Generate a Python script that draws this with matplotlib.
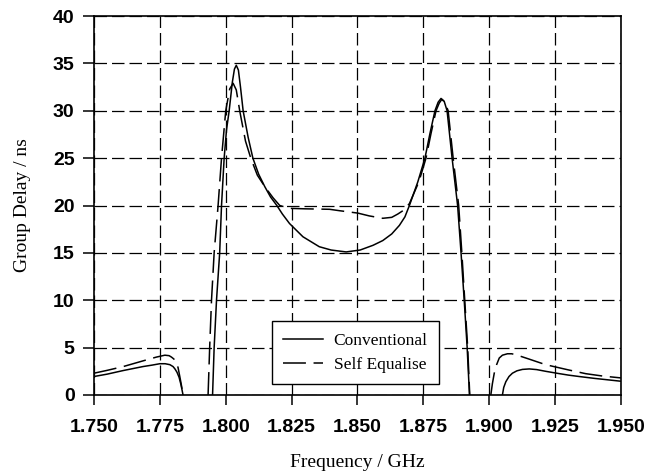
import numpy as np
import matplotlib
matplotlib.use("Agg")
import matplotlib.pyplot as plt

# Conventional (solid) - three branches separated by NaN
conv_freq = [1.7500, 1.7550, 1.7611, 1.7686, 1.7720, 1.7750, 1.7770, 1.7788, 1.7800, 1.7807,
             1.7815, 1.7823, 1.7830, 1.7838, np.nan,
             1.7950, 1.7956, 1.7965, 1.7977, 1.7984, 1.7994, 1.8003, 1.8013, 1.8025, 1.8033,
             1.8040, 1.8048, 1.8056, 1.8066, 1.8085, 1.8103, 1.8125, 1.8148, 1.8170, 1.8194,
             1.8215, 1.8242, 1.8293, 1.8355, 1.8400, 1.8457, 1.8510, 1.8559, 1.8596, 1.8630,
             1.8659, 1.8680, 1.8697, 1.8729, 1.8756, 1.8775, 1.8794, 1.8806, 1.8817, 1.8829,
             1.8840, 1.8859, 1.8880, 1.8893, 1.8905, 1.8916, 1.8925, np.nan,
             1.9050, 1.9055, 1.9063, 1.9075, 1.9088, 1.9105, 1.9126, 1.9152, 1.9180, 1.9214,
             1.9260, 1.9300, 1.9341, 1.9400, 1.9450, 1.9500]
conv_delay = [1.95, 2.20, 2.58, 3.00, 3.15, 3.30, 3.30, 3.20, 3.00, 2.76,
              2.40, 1.86, 1.10, 0.00, np.nan,
              0.00, 5.0, 10.0, 15.0, 20.0, 25.0, 28.0, 30.0, 33.0, 34.4,
              34.8, 34.3, 32.5, 30.0, 27.2, 25.0, 23.3, 22.0, 20.9, 20.0,
              19.1, 18.1, 16.7, 15.65, 15.3, 15.1, 15.3, 15.8, 16.3, 17.0,
              17.9, 18.8, 20.0, 22.5, 25.0, 27.6, 30.0, 30.9, 31.3, 31.0,
              30.0, 25.0, 20.0, 15.0, 10.0, 5.1, 0.0, np.nan,
              0.00, 0.80, 1.40, 1.95, 2.30, 2.55, 2.70, 2.75, 2.68, 2.50,
              2.28, 2.10, 1.95, 1.75, 1.60, 1.45]

# Self Equalise (dashed)
self_freq = [1.7500, 1.7550, 1.7611, 1.7686, 1.7737, 1.7769, 1.7785, 1.7794, 1.7803, 1.7811,
             1.7819, 1.7826, 1.7832, 1.7838, np.nan,
             1.7933, 1.7939, 1.7946, 1.7956, 1.7971, 1.7984, 1.8000, 1.8015, 1.8028, 1.8040,
             1.8053, 1.8075, 1.8095, 1.8120, 1.8148, 1.8180, 1.8205, 1.8242, 1.8300, 1.8394,
             1.8432, 1.8501, 1.8545, 1.8596, 1.8630, 1.8653, 1.8675, 1.8697, 1.8733, 1.8760,
             1.8779, 1.8798, 1.8810, 1.8820, 1.8832, 1.8844, 1.8863, 1.8884, 1.8896, 1.8907,
             1.8918, 1.8926, np.nan,
             1.9006, 1.9012, 1.9019, 1.9028, 1.9038, 1.9050, 1.9069, 1.9085, 1.9101, 1.9150,
             1.9214, 1.9253, 1.9300, 1.9366, 1.9430, 1.9500]
self_delay = [2.30, 2.60, 3.00, 3.60, 4.00, 4.20, 4.15, 4.00, 3.80, 3.50,
              2.90, 1.90, 1.00, 0.00, np.nan,
              0.00, 5.0, 10.0, 15.0, 20.0, 25.0, 30.0, 32.3, 32.9, 32.2,
              30.0, 26.8, 25.0, 23.2, 22.0, 20.8, 20.0, 19.7, 19.65, 19.6,
              19.45, 19.2, 18.9, 18.65, 18.75, 19.1, 19.5, 20.2, 22.5, 25.0,
              27.6, 30.0, 30.8, 31.2, 30.9, 30.0, 25.0, 20.0, 15.0, 10.0,
              5.1, 0.0, np.nan,
              0.00, 1.20, 2.30, 3.20, 3.90, 4.20, 4.35, 4.35, 4.25, 3.80,
              3.20, 2.95, 2.65, 2.25, 2.00, 1.80]

x_ticks = [1.750, 1.775, 1.800, 1.825, 1.850, 1.875, 1.900, 1.925, 1.950]
y_ticks = [0, 5, 10, 15, 20, 25, 30, 35, 40]

fig = plt.figure(figsize=(6.6, 4.74), dpi=100)
ax = fig.add_axes([0.1424, 0.1667, 0.7985, 0.7995])

ax.plot(conv_freq, conv_delay, color='k', lw=1.1, label='Conventional')
ax.plot(self_freq, self_delay, color='k', lw=1.1, linestyle=(0, (15, 5)), label='Self Equalise')

ax.set_xlim(1.750, 1.950)
ax.set_ylim(0, 40)
ax.set_xticks(x_ticks)
ax.set_xticklabels(['%.3f' % t for t in x_ticks])
ax.set_yticks(y_ticks)

ax.grid(True, color='k', lw=0.9, linestyle=(0, (10, 4)))
for sp in ax.spines.values():
  sp.set_linewidth(1.2)

for lab in ax.get_xticklabels() + ax.get_yticklabels():
  lab.set_fontfamily('Liberation Sans')
  lab.set_fontsize(14)
  lab.set_fontweight('bold')
ax.tick_params(axis='x', direction='out', length=7, width=1.1, pad=10)
ax.tick_params(axis='y', direction='out', length=8, width=1.1, pad=6)

ax.set_xlabel('Frequency / GHz', family='Liberation Serif', fontsize=14, labelpad=13)
ax.set_ylabel('Group Delay / ns', family='Liberation Serif', fontsize=14, labelpad=16)

leg = ax.legend(loc='lower left', bbox_to_anchor=(0.338, 0.029), prop={'family': 'Liberation Serif', 'size': 12.5},
                fancybox=False, framealpha=1, edgecolor='k', handlelength=2.3, handletextpad=0.6,
                borderpad=0.65, labelspacing=0.45, borderaxespad=0)
leg.get_frame().set_linewidth(1.0)

fig.savefig('out.png', dpi=100)
